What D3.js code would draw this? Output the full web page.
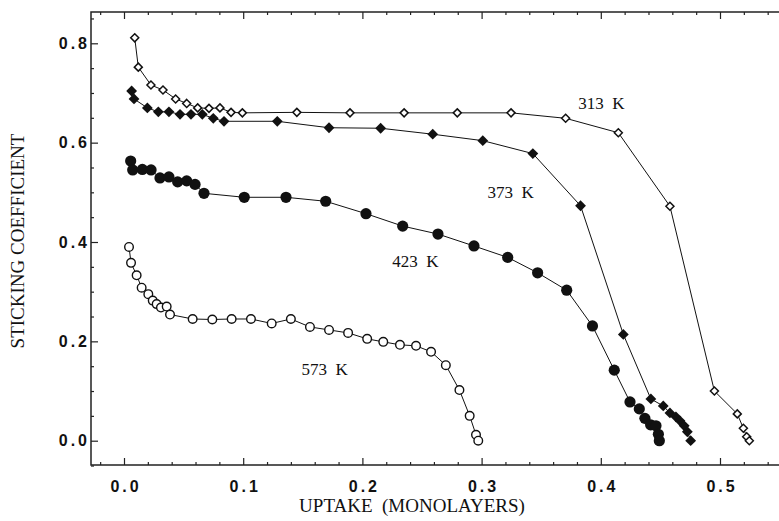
<!DOCTYPE html>
<html>
<head>
<meta charset="utf-8">
<script src="https://cdn.jsdelivr.net/npm/d3@7"></script>
<style>
  html, body { margin: 0; padding: 0; background: #fff; }
  svg { display: block; }
  .tick-label { font-family: "Liberation Sans", Arial, sans-serif; font-weight: bold; font-size: 16px; letter-spacing: 3px; fill: #111; }
  .axis-title { font-family: "Liberation Serif", "Times New Roman", serif; font-size: 19px; fill: #111; }
  .curve-label { font-family: "Liberation Serif", "Times New Roman", serif; font-size: 17px; fill: #111; white-space: pre; }
</style>
</head>
<body>
<svg id="chart" width="779" height="521"></svg>
<script>
// Uptake (monolayers) and sticking coefficient for each surface temperature
const uptake313 = [0.009, 0.012, 0.0226, 0.0327, 0.0433, 0.0526, 0.0618, 0.0713, 0.0805, 0.0898, 0.0993, 0.145, 0.1896, 0.235, 0.2796, 0.3247, 0.3705, 0.4147, 0.458, 0.4953, 0.5145, 0.5196, 0.5224, 0.5246];
const stick313  = [0.811, 0.752, 0.716, 0.706, 0.688, 0.679, 0.670, 0.669, 0.670, 0.661, 0.660, 0.661, 0.660, 0.660, 0.660, 0.660, 0.649, 0.620, 0.472, 0.100, 0.054, 0.025, 0.008, 0.0];

const uptake373 = [0.0064, 0.0084, 0.0196, 0.0288, 0.0377, 0.047, 0.0562, 0.0657, 0.0749, 0.0839, 0.1286, 0.172, 0.2153, 0.259, 0.301, 0.343, 0.383, 0.4189, 0.442, 0.4524, 0.458, 0.463, 0.4664, 0.470, 0.4726, 0.4754];
const stick373  = [0.704, 0.688, 0.670, 0.662, 0.662, 0.657, 0.657, 0.657, 0.649, 0.643, 0.643, 0.630, 0.629, 0.617, 0.604, 0.578, 0.473, 0.214, 0.084, 0.070, 0.056, 0.048, 0.040, 0.030, 0.018, 0.0];

const uptake423 = [0.0056, 0.0073, 0.0154, 0.0227, 0.0302, 0.0377, 0.045, 0.0526, 0.0596, 0.0671, 0.1009, 0.1359, 0.1692, 0.203, 0.2338, 0.2634, 0.2936, 0.3219, 0.347, 0.3714, 0.393, 0.4113, 0.4245, 0.4323, 0.437, 0.4418, 0.4463, 0.4483, 0.4491];
const stick423  = [0.563, 0.545, 0.546, 0.545, 0.529, 0.531, 0.521, 0.523, 0.516, 0.498, 0.490, 0.490, 0.482, 0.457, 0.432, 0.416, 0.392, 0.369, 0.338, 0.303, 0.231, 0.142, 0.078, 0.064, 0.045, 0.032, 0.030, 0.013, 0.0];

const uptake573 = [0.0042, 0.0059, 0.0106, 0.0148, 0.0204, 0.0241, 0.0274, 0.031, 0.0358, 0.0386, 0.0576, 0.0741, 0.0903, 0.1065, 0.1239, 0.140, 0.156, 0.172, 0.188, 0.204, 0.2175, 0.2315, 0.245, 0.2576, 0.270, 0.2814, 0.290, 0.2953, 0.2972];
const stick573  = [0.390, 0.358, 0.333, 0.308, 0.295, 0.282, 0.275, 0.268, 0.270, 0.254, 0.245, 0.244, 0.245, 0.245, 0.236, 0.245, 0.229, 0.223, 0.217, 0.205, 0.199, 0.193, 0.191, 0.179, 0.152, 0.102, 0.050, 0.012, 0.0];

const seriesNames = ["313 K", "373 K", "423 K", "573 K"];

// Axis ticks
const xTickValues = [0.0, 0.1, 0.2, 0.3, 0.4, 0.5];
const yTickValues = [0.0, 0.2, 0.4, 0.6, 0.8];
const xTitle = "UPTAKE  (MONOLAYERS)";
const yTitle = "STICKING COEFFICIENT";

// ---- layout ----
const frame = { left: 91, top: 12, bottom: 465, right: 792 };

const svg = d3.select("#chart");

const x = d3.scaleLinear().domain([0, 0.5]).range([124, 720]);
const y = d3.scaleLinear().domain([0, 0.8]).range([440.7, 43.3]);

const xMinor = d3.range(-0.02, 0.57, 0.02).map(v => +v.toFixed(2)).filter(v => xTickValues.indexOf(v) < 0);
const yMinor = d3.range(-0.05, 0.86, 0.05).map(v => +v.toFixed(2)).filter(v => yTickValues.indexOf(v) < 0);

// frame
svg.append("path")
  .attr("d", `M${frame.right},${frame.top}H${frame.left}V${frame.bottom}H${frame.right}`)
  .attr("fill", "none").attr("stroke", "#222").attr("stroke-width", 1.5);

function styleAxis(g) {
  g.select(".domain").remove();
  g.selectAll(".tick line").attr("stroke", "#222").attr("stroke-width", 1.2);
}

// bottom axis: major ticks with labels, minor ticks inward
svg.append("g").attr("transform", `translate(0,${frame.bottom})`)
  .call(d3.axisBottom(x).tickValues(xTickValues).tickSize(-7).tickPadding(16).tickFormat(d3.format(".1f")))
  .call(styleAxis)
  .call(g => g.selectAll("text").attr("class", "tick-label").attr("fill", null).attr("font-family", null).attr("font-size", null).attr("dx", "1.5px"));
svg.append("g").attr("transform", `translate(0,${frame.bottom})`)
  .call(d3.axisBottom(x).tickValues(xMinor).tickSize(-3).tickFormat(""))
  .call(styleAxis);

// top axis ticks (no labels)
svg.append("g").attr("transform", `translate(0,${frame.top})`)
  .call(d3.axisTop(x).tickValues(xTickValues).tickSize(-7).tickFormat(""))
  .call(styleAxis);
svg.append("g").attr("transform", `translate(0,${frame.top})`)
  .call(d3.axisTop(x).tickValues(xMinor).tickSize(-3).tickFormat(""))
  .call(styleAxis);

// left axis
svg.append("g").attr("transform", `translate(${frame.left},0)`)
  .call(d3.axisLeft(y).tickValues(yTickValues).tickSize(-7).tickPadding(1).tickFormat(d3.format(".1f")))
  .call(styleAxis)
  .call(g => g.selectAll("text").attr("class", "tick-label").attr("fill", null).attr("font-family", null).attr("font-size", null));
svg.append("g").attr("transform", `translate(${frame.left},0)`)
  .call(d3.axisLeft(y).tickValues(yMinor).tickSize(-3).tickFormat(""))
  .call(styleAxis);

// axis titles
svg.append("text").attr("class", "axis-title")
  .attr("x", 412).attr("y", 512).attr("text-anchor", "middle")
  .style("white-space", "pre")
  .text(xTitle);
svg.append("text").attr("class", "axis-title")
  .attr("transform", "translate(24,241) rotate(-90)")
  .attr("text-anchor", "middle")
  .text(yTitle);

// ---- curves ----
const line = d3.line().x(d => x(d[0])).y(d => y(d[1]));
const zip = (a, b) => a.map((v, i) => [v, b[i]]);

const series = [
  { name: seriesNames[0], pts: zip(uptake313, stick313), marker: "openDiamond" },
  { name: seriesNames[1], pts: zip(uptake373, stick373), marker: "filledDiamond" },
  { name: seriesNames[2], pts: zip(uptake423, stick423), marker: "filledCircle" },
  { name: seriesNames[3], pts: zip(uptake573, stick573), marker: "openCircle" }
];

series.forEach(s => {
  svg.append("path").datum(s.pts)
    .attr("d", line)
    .attr("fill", "none").attr("stroke", "#111").attr("stroke-width", 1);
});

const diamond = r => `M0,${-r}L${r},0L0,${r}L${-r},0Z`;

series.forEach(s => {
  const g = svg.append("g");
  const sel = g.selectAll("*").data(s.pts);
  if (s.marker === "openDiamond") {
    sel.enter().append("path")
      .attr("transform", d => `translate(${x(d[0])},${y(d[1])})`)
      .attr("d", diamond(4))
      .attr("fill", "#fff").attr("stroke", "#111").attr("stroke-width", 1.5);
  } else if (s.marker === "filledDiamond") {
    sel.enter().append("path")
      .attr("transform", d => `translate(${x(d[0])},${y(d[1])})`)
      .attr("d", diamond(5.4))
      .attr("fill", "#111");
  } else if (s.marker === "filledCircle") {
    sel.enter().append("circle")
      .attr("cx", d => x(d[0])).attr("cy", d => y(d[1])).attr("r", 5.6)
      .attr("fill", "#111");
  } else {
    sel.enter().append("circle")
      .attr("cx", d => x(d[0])).attr("cy", d => y(d[1])).attr("r", 4.3)
      .attr("fill", "#fff").attr("stroke", "#111").attr("stroke-width", 1.4);
  }
});

// temperature labels next to each curve
const labelPos = [
  { x: 0.381, y: 0.667 },
  { x: 0.305, y: 0.489 },
  { x: 0.225, y: 0.350 },
  { x: 0.149, y: 0.132 }
];
series.forEach((s, i) => {
  svg.append("text").attr("class", "curve-label")
    .attr("x", x(labelPos[i].x)).attr("y", y(labelPos[i].y))
    .text(s.name.replace(" ", "  "));
});
</script>
</body>
</html>
